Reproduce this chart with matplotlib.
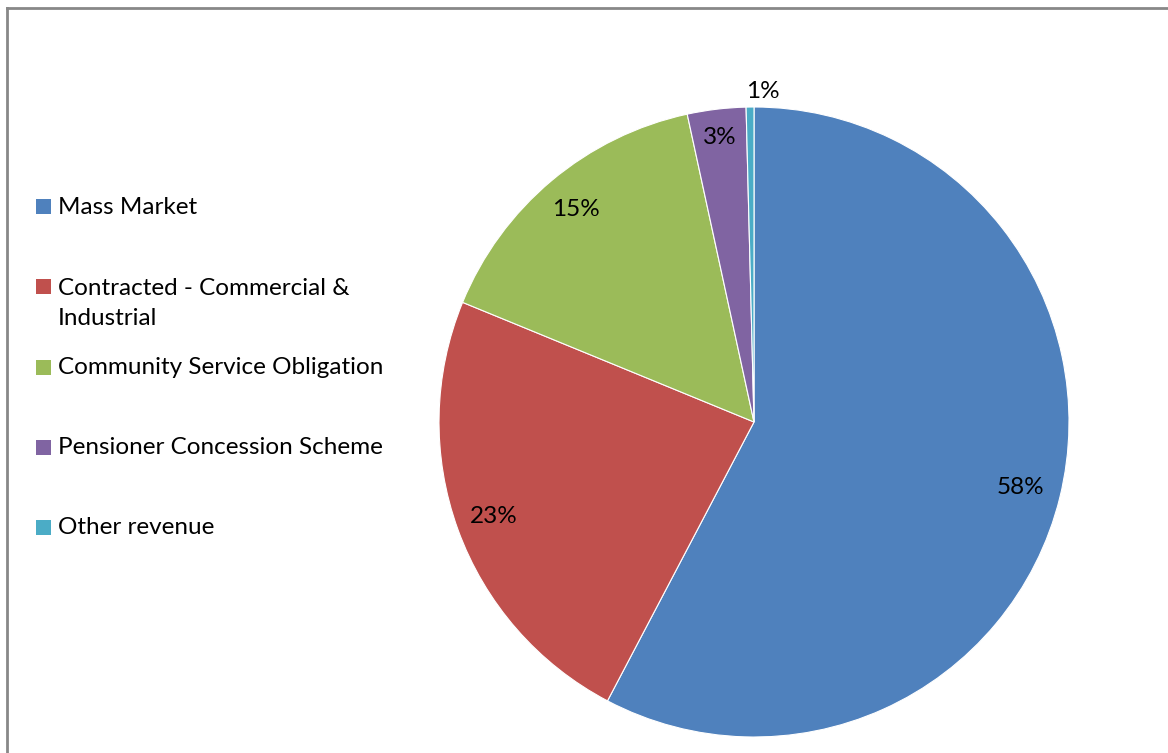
import matplotlib
matplotlib.use("Agg")
import matplotlib.pyplot as plt
from matplotlib.lines import Line2D
from matplotlib.patches import Rectangle
import numpy as np

categories = ["Mass Market", "Contracted - Commercial &\nIndustrial",
              "Community Service Obligation", "Pensioner Concession Scheme",
              "Other revenue"]
shares = [57.7, 23.5, 15.4, 3.0, 0.4]
pct_labels = ["58%", "23%", "15%", "3%", "1%"]
colors = ["#4F81BD", "#C0504D", "#9BBB59", "#8064A2", "#4BACC6"]

plt.rcParams['font.family'] = ['Lato', 'DejaVu Sans']
FS = 17.5

W, H = 1168, 753
fig = plt.figure(figsize=(W / 100, H / 100), dpi=100)

# pie axes placed by pixel: centre (754, 422), radius 315
cx, cy, r = 754, 422, 315
ax = fig.add_axes([(cx - r) / W, (H - cy - r) / H, 2 * r / W, 2 * r / H])
wedges, _ = ax.pie(shares, colors=colors, startangle=90, counterclock=False,
                   radius=1, wedgeprops=dict(edgecolor="white", linewidth=0.8))
ax.set_xlim(-1, 1)
ax.set_ylim(-1, 1)
ax.set_aspect("equal")
ax.axis("off")

label_r = [0.87, 0.88, 0.88, 0.91, 1.05]
for i, (w, txt, lr) in enumerate(zip(wedges, pct_labels, label_r)):
    ang = np.deg2rad((w.theta1 + w.theta2) / 2)
    dx = 0.04 if i == len(wedges) - 1 else 0  # outside label nudged right
    ax.text(lr * np.cos(ang) + dx, lr * np.sin(ang), txt, ha="center", va="center",
            fontsize=FS, color="black", clip_on=False)

# legend drawn by hand, Excel-style
ys = [207, 287, 368, 448, 528]
line_step = 33
for y, name, c in zip(ys, categories, colors):
    fig.patches.append(Rectangle((36 / W, (H - y - 7) / H), 15 / W, 15 / H,
                                 transform=fig.transFigure, facecolor=c,
                                 edgecolor="none"))
    n = name.count("\n")
    ty = y + n * line_step / 2
    fig.text(58 / W, (H - ty) / H, name, ha="left", va="center",
             fontsize=FS, linespacing=1.55, transform=fig.transFigure)

# chart area border (top and left only visible)
fig.lines.append(Line2D([7 / W, 7 / W], [0, (H - 8) / H], transform=fig.transFigure,
                        color="#888888", linewidth=2))
fig.lines.append(Line2D([7 / W, 1], [(H - 8) / H, (H - 8) / H], transform=fig.transFigure,
                        color="#888888", linewidth=2))

fig.savefig("out.png", dpi=100)
